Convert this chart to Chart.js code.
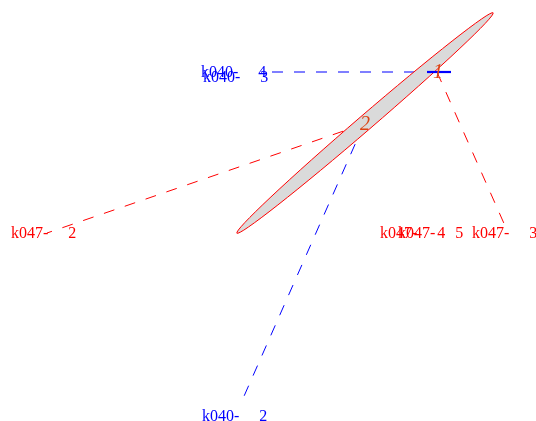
<!DOCTYPE html>
<html><head><meta charset="utf-8">
<script src="https://cdn.jsdelivr.net/npm/chart.js@4"></script>
<style>html,body{margin:0;padding:0;background:#fff}#wrap{width:536px;height:421px;position:relative}</style>
</head><body><div id="wrap"><canvas id="c"></canvas></div>
<script>
// Coordinates (x to the right, y upwards)
const clusterNames = ['1', '2'];
const clusterX = [437, 364];
const clusterY = [349, 297];

// the concentration ellipse
const ellipseCenterX = 365;
const ellipseCenterY = 298;
const ellipseSemiMajor = 169;
const ellipseSemiMinor = 7.5;
const ellipseAngleDeg = 40.7;

// cross bar at cluster 1
const barFromX = 427, barToX = 451, barY = 349;

// blue (k040) labels and links
const blueLabels = ['k040-     4', 'k040-     3', 'k040-     2'];
const blueLabelX = [201, 203, 202];
const blueLabelY = [348, 343, 4];
const blueLinkCluster = [0, 1];
const blueLinkEndX = [272, 241];
const blueLinkEndY = [349, 18];

// red (k047) labels and links
const redLabels = ['k047-     2', 'k047-     4', 'k047-     5', 'k047-     3'];
const redLabelX = [11, 380, 398, 472];
const redLabelY = [187, 187, 187, 187];
const redLinkCluster = [1, 0];
const redLinkEndX = [47, 506];
const redLinkEndY = [188, 193];

const BLUE = '#0000ff', RED = '#ff0000';

const datasets = [];
// cross bar (index 0 => drawn last, on top)
datasets.push({ data: [{x: barFromX, y: barY}, {x: barToX, y: barY}], borderColor: BLUE, borderWidth: 2.2, showLine: true, pointRadius: 0 });
blueLinkCluster.forEach((c, i) => datasets.push({
  data: [{x: clusterX[c], y: clusterY[c]}, {x: blueLinkEndX[i], y: blueLinkEndY[i]}],
  borderColor: BLUE, borderWidth: 1, borderDash: [11, 11], showLine: true, pointRadius: 0
}));
redLinkCluster.forEach((c, i) => datasets.push({
  data: [{x: clusterX[c], y: clusterY[c]}, {x: redLinkEndX[i], y: redLinkEndY[i]}],
  borderColor: RED, borderWidth: 1, borderDash: [11, 11], showLine: true, pointRadius: 0
}));

const drawPlugin = {
  id: 'clusterDecor',
  beforeDatasetDraw(chart, args) {
    if (args.index !== 0) return;
    const xs = chart.scales.x, ys = chart.scales.y, ctx = chart.ctx;
    const cx = xs.getPixelForValue(ellipseCenterX), cy = ys.getPixelForValue(ellipseCenterY);
    const pxPerX = Math.abs(xs.getPixelForValue(1) - xs.getPixelForValue(0));
    ctx.save();
    ctx.beginPath();
    ctx.ellipse(cx, cy, ellipseSemiMajor * pxPerX, ellipseSemiMinor * pxPerX, -ellipseAngleDeg * Math.PI / 180, 0, Math.PI * 2);
    ctx.fillStyle = '#dadada';
    ctx.fill();
    ctx.strokeStyle = RED;
    ctx.lineWidth = 1;
    ctx.stroke();
    ctx.restore();
  },
  afterDatasetsDraw(chart) {
    const xs = chart.scales.x, ys = chart.scales.y, ctx = chart.ctx;
    ctx.save();
    ctx.textAlign = 'left';
    ctx.textBaseline = 'middle';
    ctx.font = '16px "Liberation Serif", "DejaVu Serif", serif';
    ctx.fillStyle = BLUE;
    blueLabels.forEach((t, i) => ctx.fillText(t, xs.getPixelForValue(blueLabelX[i]), ys.getPixelForValue(blueLabelY[i])));
    ctx.fillStyle = RED;
    redLabels.forEach((t, i) => ctx.fillText(t, xs.getPixelForValue(redLabelX[i]), ys.getPixelForValue(redLabelY[i])));
    ctx.textAlign = 'center';
    ctx.font = 'italic 20px "Liberation Serif", serif';
    ctx.fillStyle = '#dc4414';
    clusterNames.forEach((t, i) => ctx.fillText(t, xs.getPixelForValue(clusterX[i]) + 1, ys.getPixelForValue(clusterY[i]) + 1));
    ctx.restore();
  }
};

new Chart(document.getElementById('c'), {
  type: 'scatter',
  data: { datasets },
  options: {
    responsive: true,
    maintainAspectRatio: false,
    animation: false,
    layout: { padding: 0 },
    plugins: { legend: { display: false }, tooltip: { enabled: false } },
    scales: {
      x: { type: 'linear', min: 0, max: 536, display: false },
      y: { type: 'linear', min: 0, max: 421, display: false }
    }
  },
  plugins: [drawPlugin]
});
</script>
</body></html>
